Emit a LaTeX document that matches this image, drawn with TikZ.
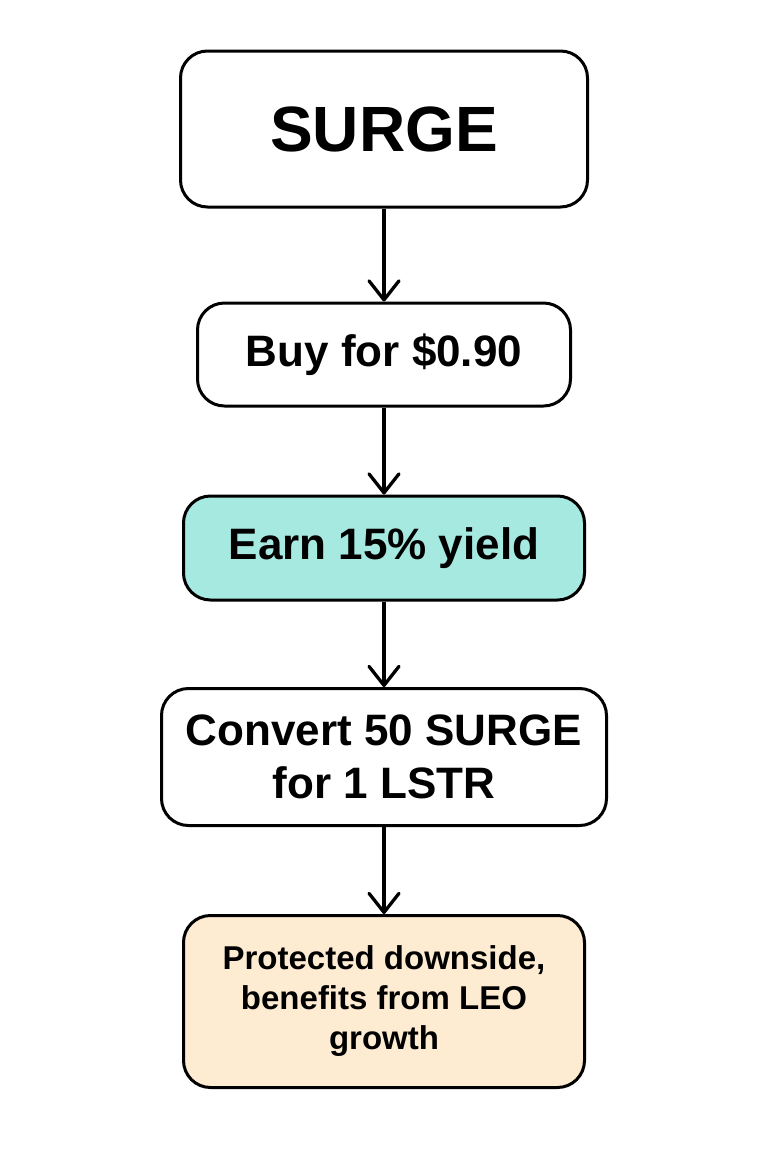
\documentclass[tikz,border=0pt]{standalone}
\usepackage{fontspec}
\setmainfont{Liberation Sans}
\usetikzlibrary{arrows.meta}
\definecolor{yieldteal}{RGB}{166,233,225}
\definecolor{leopeach}{RGB}{253,235,210}
\tikzset{
  stepbox/.style={draw=black, line width=3pt, rounded corners=27pt, align=center, inner sep=0pt,
    font=\bfseries\fontsize{44}{53}\selectfont},
  flow/.style={line width=3.3pt, -{Straight Barb[length=19pt,width=30pt,round]}}
}

\begin{document}
\begin{tikzpicture}[x=1pt,y=-1pt]
			%%%%% START %%%%%
			\def\xmid{384}
			\useasboundingbox (0,0) rectangle (768,1152);

			\node[stepbox, minimum width=407pt, minimum height=156pt,
			  font=\bfseries\fontsize{64}{77}\selectfont] (surge) at (\xmid,129) {SURGE};
			\node[stepbox, minimum width=373pt, minimum height=103pt] (buy) at (\xmid,354.5) {Buy for \$0.90};
			\node[stepbox, fill=yieldteal, minimum width=401pt, minimum height=104pt] (earn) at (\xmid,548) {Earn 15\% yield};
			\node[stepbox, minimum width=445pt, minimum height=137pt] (convert) at (\xmid,757) {Convert 50 SURGE\\for 1 LSTR};
			\node[stepbox, fill=leopeach, minimum width=401pt, minimum height=172pt,
			  font=\bfseries\fontsize{33}{40}\selectfont] (protect) at (\xmid,1001.5) {Protected downside,\\benefits from LEO\\growth};

			\draw[flow] (surge) -- (buy);
			\draw[flow] (buy) -- (earn);
			\draw[flow] (earn) -- (convert);
			\draw[flow] (convert) -- (protect);
			%%%%% END %%%%%
\end{tikzpicture}
\end{document}
